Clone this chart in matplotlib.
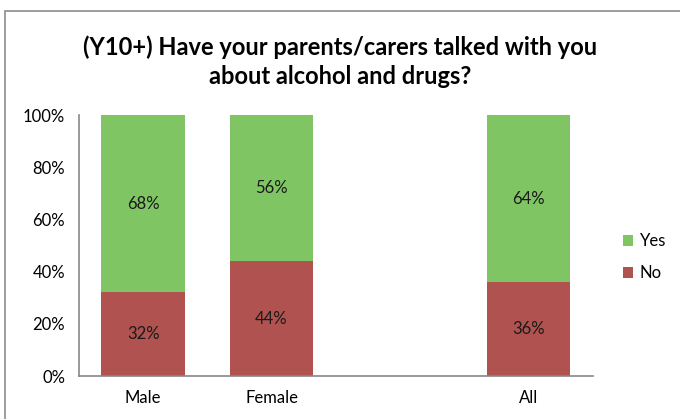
import matplotlib
matplotlib.use("Agg")
import matplotlib.pyplot as plt
from matplotlib.patches import Rectangle

categories = ["Male", "Female", "", "All"]
no_vals = [32, 44, None, 36]
yes_vals = [68, 56, None, 64]
y_ticks = [0, 20, 40, 60, 80, 100]

green = "#80C564"
red = "#B0524F"

plt.rcParams["font.family"] = ["Lato", "DejaVu Sans"]

fig = plt.figure(figsize=(6.8, 4.19), dpi=100)
# chart area border
fig.patches.append(Rectangle((5 / 680, -0.1), 1.2, 1 - 11 / 419 + 0.1,
                             transform=fig.transFigure, fill=False,
                             edgecolor="#8C8C8C", linewidth=1.2))

ax = fig.add_axes([79 / 680, 43 / 419, (592.5 - 79) / 680, (376 - 115) / 419])

x = range(len(categories))
bw = 0.65
fs = 12
for i, (n, y) in enumerate(zip(no_vals, yes_vals)):
    if n is None:
        continue
    ax.bar(i, n, width=bw, color=red, label="No" if i == 0 else None)
    ax.bar(i, y, bottom=n, width=bw, color=green, label="Yes" if i == 0 else None)
    ax.text(i, n / 2, f"{n}%", ha="center", va="center", fontsize=fs, color="#1a1a1a")
    ax.text(i, n + y / 2, f"{y}%", ha="center", va="center", fontsize=fs, color="#1a1a1a")

ax.set_xlim(-0.5, 3.5)
ax.set_ylim(0, 100)
ax.set_xticks(list(x))
ax.set_xticklabels(categories, fontsize=fs)
ax.set_yticks(y_ticks)
ax.set_yticklabels([f"{t}%" for t in y_ticks], fontsize=fs)
ax.tick_params(length=0, pad=10)
ax.tick_params(axis="x", pad=10)
for s in ["top", "right"]:
    ax.spines[s].set_visible(False)
for s in ["left", "bottom"]:
    ax.spines[s].set_color("#878787")
    ax.spines[s].set_linewidth(1.2)

handles, labels = ax.get_legend_handles_labels()
ax.legend(handles[::-1], labels[::-1], loc="center left", bbox_to_anchor=(1.03, 0.455),
          frameon=False, fontsize=fs, handlelength=0.6, handleheight=0.6,
          labelspacing=0.95, handletextpad=0.4)

fig.text(0.5, 1 - 62 / 419, "(Y10+) Have your parents/carers talked with you\nabout alcohol and drugs?",
         ha="center", va="center", fontsize=17, fontweight="bold", linespacing=1.3)

fig.savefig("out.png", dpi=100)
